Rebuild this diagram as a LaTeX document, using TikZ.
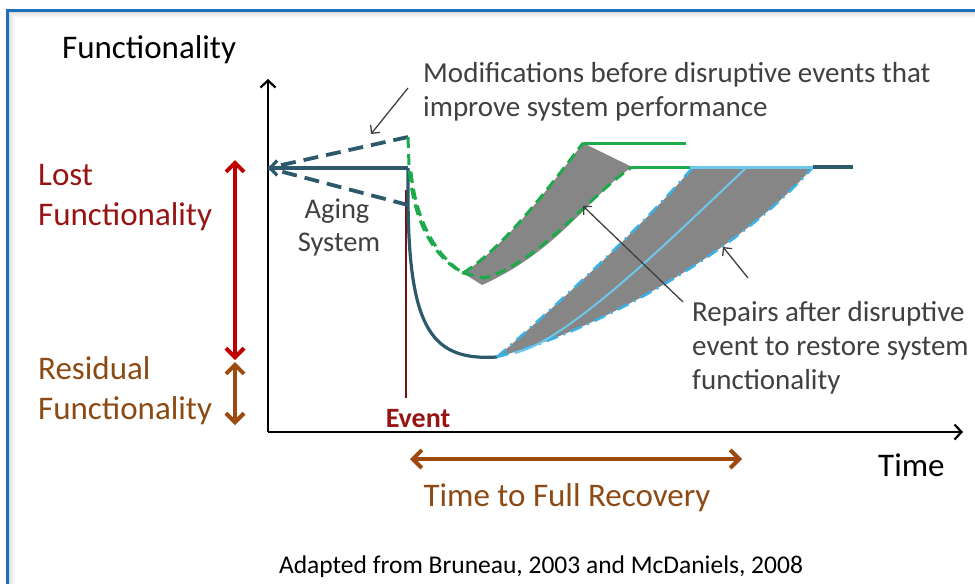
\documentclass[tikz,border=0pt]{standalone}
\usepackage{fontspec}
\setmainfont{Carlito}
\usetikzlibrary{arrows.meta}
\definecolor{tealdk}{RGB}{44,90,106}
\definecolor{grnln}{RGB}{30,170,75}
\definecolor{cyanln}{RGB}{60,178,228}
\definecolor{cyanlt}{RGB}{110,200,235}
\definecolor{grayfill}{RGB}{134,134,134}
\definecolor{redarr}{RGB}{192,0,0}
\definecolor{redtxt}{RGB}{150,20,20}
\definecolor{browntxt}{RGB}{140,74,20}
\definecolor{brownarr}{RGB}{156,74,14}
\definecolor{frameblue}{RGB}{30,110,190}
\definecolor{notegray}{RGB}{64,64,64}
\begin{document}
\begin{tikzpicture}[x=1pt,y=-1pt,
  axisln/.style={line width=2.2pt,-{Straight Barb[length=7pt,width=15pt]}},
  bigtxt/.style={font=\fontsize{33}{40}\selectfont},
  notetxt/.style={font=\fontsize{29}{34}\selectfont,text=notegray,align=left},
  noteln/.style={line width=1.3pt,draw=notegray,-{Straight Barb[length=6pt,width=12pt]}},
  tealsolid/.style={draw=tealdk,line width=3.2pt},
  tealdash/.style={draw=tealdk,line width=3.8pt,dash pattern=on 15pt off 8pt},
  grndash/.style={draw=grnln,line width=3pt,dash pattern=on 11pt off 6pt},
  grnsolid/.style={draw=grnln,line width=3pt},
  cyandd/.style={draw=cyanln,line width=2.6pt,dash pattern=on 12pt off 6pt on 2pt off 6pt},
  shade/.style={fill=grayfill,draw=none},
  dblred/.style={draw=redarr,line width=4pt,{Straight Barb[length=9pt,width=18pt]}-{Straight Barb[length=9pt,width=18pt]}},
  dblbrown/.style={draw=brownarr,line width=4pt,{Straight Barb[length=9pt,width=18pt]}-{Straight Barb[length=9pt,width=18pt]}}
]
\useasboundingbox (0,0) rectangle (975,584);
% frame with inner shadow
\foreach \i/\o in {1/0.35,2/0.25,3/0.17,4/0.1,5/0.05}{
  \draw[black!40,opacity=\o,line width=1.2pt] (8+1.3*\i,584) -- (8+1.3*\i,11+1.3*\i) -- (975,11+1.3*\i);
}
\draw[frameblue,line width=3pt] (7,584) -- (7,10) -- (975,10);

% coordinates
\coordinate (O) at (268,432);
\coordinate (Ytop) at (268,79);
\coordinate (Xend) at (963,432);
\coordinate (B0) at (268,168);
\coordinate (B1) at (408,168);
\coordinate (Up) at (408,137);
\coordinate (Dn) at (408,205);
\coordinate (G0) at (463,273);
\coordinate (G1) at (583,143);
\coordinate (G2) at (632,167);
\coordinate (G3) at (482,285);
\coordinate (C0) at (497,357);
\coordinate (C1) at (693,167);
\coordinate (C2) at (813,167);

% gray regions
\path[shade] (G0) .. controls (500,250) and (540,200) .. (G1) -- (G2)
  .. controls (590,195) and (560,250) .. (G3) -- cycle;
\path[shade] (C0) .. controls (540,320) and (640,230) .. (C1) -- (C2)
  .. controls (740,250) and (600,330) .. (C0) -- cycle;

% axes
\draw[axisln] (O) -- (Ytop);
\draw[axisln] (O) -- (Xend);

% event line
\draw[redtxt!80!black,line width=1.5pt] (406,190) -- (406,398);

% baseline and dashed variants
\draw[tealdash] (Up) -- (B0);
\draw[tealdash] (Dn) -- (B0);
\draw[tealsolid,-{Straight Barb[length=7pt,width=15pt]}] (B1) -- (B0);
\draw[tealsolid] (B1) -- (408,200) .. controls (409,330) and (432,361) .. (C0);

% green recovery
\draw[grndash] (Up) -- (409,165) .. controls (412,215) and (430,255) .. (G0);
\draw[grndash] (411,172) .. controls (416,220) and (435,255) .. (G0);
\draw[grndash] (G0) .. controls (500,250) and (540,200) .. (G1);
\draw[grndash] (G0) -- (485,278) .. controls (540,262) and (590,195) .. (G2);
\draw[grnsolid] (G1) -- (686,143);
\draw[grnsolid] (G2) -- (690,167);

% blue recovery
\draw[cyandd] (C0) .. controls (540,320) and (640,230) .. (C1);
\draw[cyandd] (C0) .. controls (600,330) and (740,250) .. (C2);
\draw[cyanlt,line width=2pt] (515,353) .. controls (570,340) and (680,230) .. (747,167);
\draw[cyanlt,line width=3pt] (690,167) -- (C2);
\draw[tealsolid] (C2) -- (853,167);

% double arrows
\draw[dblred] (235,160) -- (235,360);
\draw[dblbrown] (235,362) -- (235,425);
\draw[dblbrown] (410,459) -- (742,459);

% texts
\node[bigtxt,anchor=base west,inner sep=0] (ylab) at (62,58) {Functionality};
\node[bigtxt,anchor=base west,inner sep=0] (xlab) at (878,476) {Time};
\node[bigtxt,anchor=base west,inner sep=0,text=redtxt] (lost1) at (38,185) {Lost};
\node[bigtxt,anchor=base west,inner sep=0,text=redtxt] (lost2) at (38,225) {Functionality};
\node[bigtxt,anchor=base west,inner sep=0,text=browntxt] (res1) at (38,379) {Residual};
\node[bigtxt,anchor=base west,inner sep=0,text=browntxt] (res2) at (38,419) {Functionality};
\node[bigtxt,anchor=base,inner sep=0,text=browntxt] (ttr) at (567,506) {Time to Full Recovery};
\node[font=\fontsize{28}{32}\selectfont\bfseries,text=redtxt,anchor=base,inner sep=0] (ev) at (418,427) {Event};
\node[font=\fontsize{28.5}{33}\selectfont,text=notegray,anchor=base,inner sep=0] (ag1) at (337,218) {Aging};
\node[font=\fontsize{28.5}{33}\selectfont,text=notegray,anchor=base,inner sep=0] (ag2) at (339,251) {System};
\node[notetxt,anchor=base west,inner sep=0] (mod1) at (423,82) {Modifications before disruptive events that};
\node[notetxt,anchor=base west,inner sep=0] (mod2) at (423,116) {improve system performance};
\node[notetxt,anchor=base west,inner sep=0] (rep1) at (692,321) {Repairs after disruptive};
\node[notetxt,anchor=base west,inner sep=0] (rep2) at (692,355) {event to restore system};
\node[notetxt,anchor=base west,inner sep=0] (rep3) at (692,389) {functionality};
\node[font=\fontsize{25.5}{30}\selectfont,anchor=base,inner sep=0] (src) at (541,573) {Adapted from Bruneau, 2003 and McDaniels, 2008};

% annotation arrows
\coordinate (m1) at (408,88);
\coordinate (m2) at (371,134);
\coordinate (r1s) at (683,302);
\coordinate (r1e) at (583,206);
\coordinate (r2s) at (748,278);
\coordinate (r2e) at (723,247);
\draw[noteln] (m1) -- (m2);
\draw[noteln] (r1s) -- (r1e);
\draw[noteln] (r2s) -- (r2e);
\end{tikzpicture}
\end{document}
